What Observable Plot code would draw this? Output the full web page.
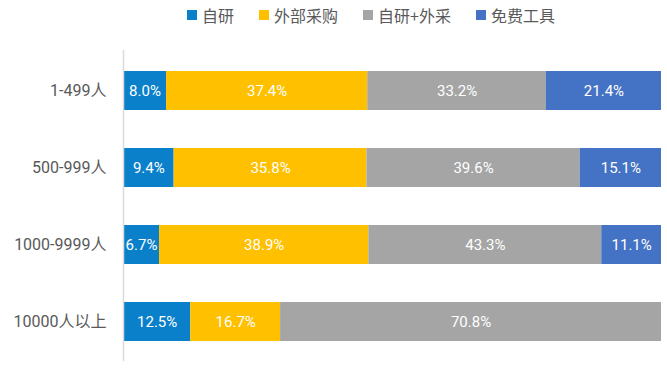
<!DOCTYPE html>
<html>
<head>
<meta charset="utf-8">
<script src="https://cdn.jsdelivr.net/npm/d3@7"></script>
<script src="https://cdn.jsdelivr.net/npm/@observablehq/plot@0.6"></script>
<style>
  body { margin: 0; background: #fff; }
  #legend { height: 30px; display: flex; align-items: center; padding-left: 187px; gap: 25px;
    font-family: "Noto Sans CJK SC", Roboto, sans-serif; font-size: 16px; color: #595959; box-sizing: border-box; }
  .item { display: flex; align-items: center; gap: 5px; }
  .sw { width: 10px; height: 10px; display: inline-block; }
</style>
</head>
<body>
<div id="legend"></div>
<div id="chart"></div>
<script>
const categories = ["1-499人", "500-999人", "1000-9999人", "10000人以上"];
const series = ["自研", "外部采购", "自研+外采", "免费工具"];
const colors = ["#0a80cb", "#ffc000", "#a5a5a5", "#4472c4"];
const values = [
  [8.0, 37.4, 33.2, 21.4],
  [9.4, 35.8, 39.6, 15.1],
  [6.7, 38.9, 43.3, 11.1],
  [12.5, 16.7, 70.8, 0]
];

const data = [];
categories.forEach((c, i) => series.forEach((s, j) => data.push({cat: c, series: s, value: values[i][j]})));

const legend = document.getElementById("legend");
series.forEach((s, j) => {
  const it = document.createElement("div");
  it.className = "item";
  it.innerHTML = `<span class="sw" style="background:${colors[j]}"></span><span>${s}</span>`;
  legend.appendChild(it);
});

const stackOpts = {x: "value", y: "cat", z: "series", order: series, offset: "normalize"};

const chart = Plot.plot({
  width: 667,
  height: 341,
  marginLeft: 123,
  marginRight: 6,
  marginTop: 20,
  marginBottom: 10,
  style: {fontFamily: "Roboto, 'Noto Sans CJK SC', sans-serif", color: "#595959", background: "#fff"},
  x: {domain: [0, 1], axis: null},
  y: {domain: categories, paddingInner: 0.5, paddingOuter: 0.25, label: null},
  color: {domain: series, range: colors},
  marks: [
    Plot.barX(data, Plot.stackX({...stackOpts, fill: "series"})),
    Plot.text(data.filter(d => d.value > 0), Plot.stackX({...stackOpts,
      text: d => d.value.toFixed(1) + "%", fill: "white", fontSize: 15})),
    Plot.ruleX([0], {stroke: "#d9d9d9", strokeWidth: 1.5}),
    Plot.axisY({tickSize: 0, tickPadding: 17, fontSize: 16, fill: "#595959", label: null})
  ]
});
document.getElementById("chart").appendChild(chart);
</script>
</body>
</html>
